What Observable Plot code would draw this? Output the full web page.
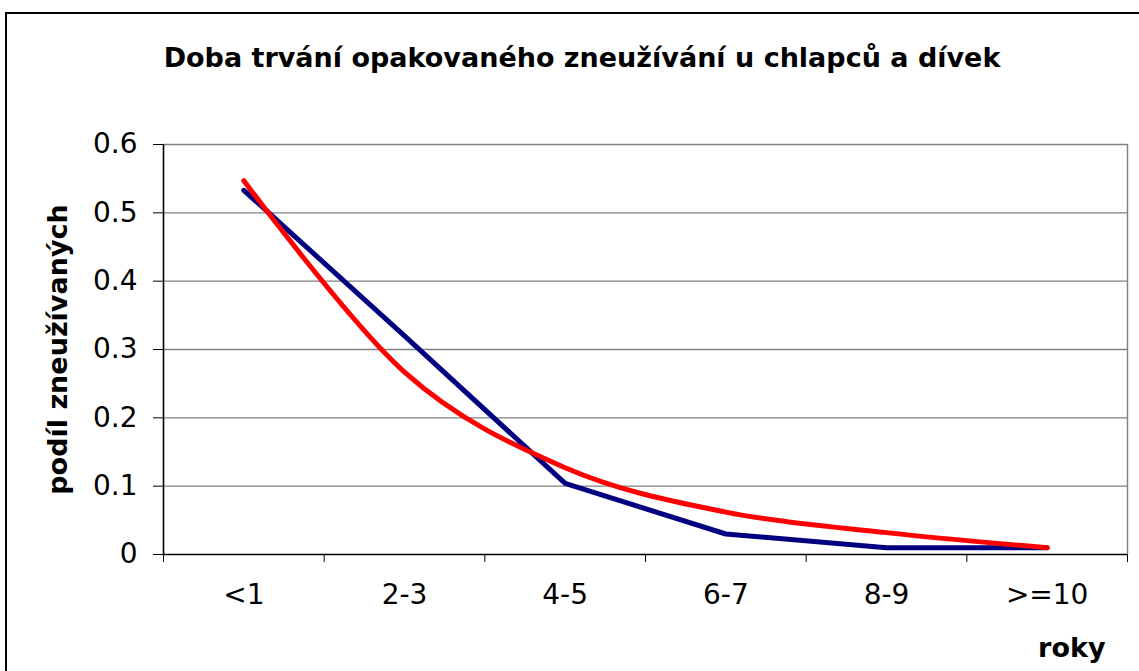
<!DOCTYPE html>
<html><head><meta charset="utf-8">
<script src="https://cdn.jsdelivr.net/npm/d3@7"></script>
<script src="https://cdn.jsdelivr.net/npm/@observablehq/plot@0.6"></script>
<style>
body{margin:0;background:#fff;font-family:"DejaVu Sans",sans-serif;}
#wrap{position:relative;width:1139px;height:671px;overflow:hidden;background:#fff;}
#border{position:absolute;left:5px;top:12px;width:1200px;height:700px;border:2px solid #000;box-sizing:border-box;}
#title{position:absolute;left:0;width:1164px;top:42px;line-height:32px;text-align:center;font-weight:bold;font-size:27px;color:#000;white-space:nowrap;}
#chart{position:absolute;left:0;top:0;}
</style></head><body>
<div id="wrap"><div id="border"></div><div id="title">Doba trvání opakovaného zneužívání u chlapců a dívek</div><div id="chart"></div></div>
<script>
const categories = ["<1", "2-3", "4-5", "6-7", "8-9", ">=10"];
const chlapci = [0.533, 0.32, 0.104, 0.03, 0.01, 0.01];
const divky = [0.547, 0.267, 0.127, 0.062, 0.032, 0.01];
const yTicks = [0, 0.1, 0.2, 0.3, 0.4, 0.5, 0.6];
const yTitle = "podíl zneužívaných";
const xTitle = "roky";

const rows = (vals) => categories.map((c, i) => ({x: i + 0.5, y: vals[i], c}));
const nCat = categories.length;

const chart = Plot.plot({
  width: 1139, height: 671,
  marginLeft: 163, marginRight: 12, marginTop: 144, marginBottom: 117,
  style: {fontFamily: '"DejaVu Sans", sans-serif', color: "#000", background: "transparent"},
  x: {type: "linear", domain: [0, nCat], axis: null},
  y: {domain: [0, 0.6], axis: null},
  marks: [
    Plot.gridY(yTicks.filter(d => d > 0), {stroke: "#808080", strokeOpacity: 1, strokeWidth: 1.4}),
    Plot.ruleX([nCat], {stroke: "#808080", strokeWidth: 1.4}),
    Plot.axisY({ticks: yTicks, tickFormat: d => String(d), tickSize: 10, tickPadding: 16, fontSize: 28, label: null, stroke: "#000"}),
    Plot.axisX({ticks: d3.range(nCat + 1), tickFormat: () => "", tickSize: 8, label: null}),
    Plot.axisX({ticks: categories.map((c, i) => i + 0.5), tickFormat: v => categories[Math.floor(v)], tickSize: 0, tickPadding: 30, fontSize: 28, label: null}),
    Plot.ruleX([0], {stroke: "#000", strokeWidth: 1.6}),
    Plot.ruleY([0], {stroke: "#000", strokeWidth: 1.6}),
    Plot.line(rows(chlapci), {x: "x", y: "y", stroke: "#000080", strokeWidth: 5, strokeLinecap: "round", strokeLinejoin: "round"}),
    Plot.line(rows(divky), {x: "x", y: "y", stroke: "#ff0000", strokeWidth: 5, curve: "cardinal", strokeLinecap: "round", strokeLinejoin: "round"}),
    Plot.text([yTitle], {frameAnchor: "left", textAnchor: "middle", lineAnchor: "middle", rotate: -90, dx: -105, fontSize: 27, fontWeight: "bold", fill: "#000"}),
    Plot.text([xTitle], {frameAnchor: "bottom-right", textAnchor: "end", lineAnchor: "middle", dx: -22, dy: 94, fontSize: 27, fontWeight: "bold", fill: "#000"})
  ]
});
document.getElementById("chart").appendChild(chart);
</script>
</body></html>
